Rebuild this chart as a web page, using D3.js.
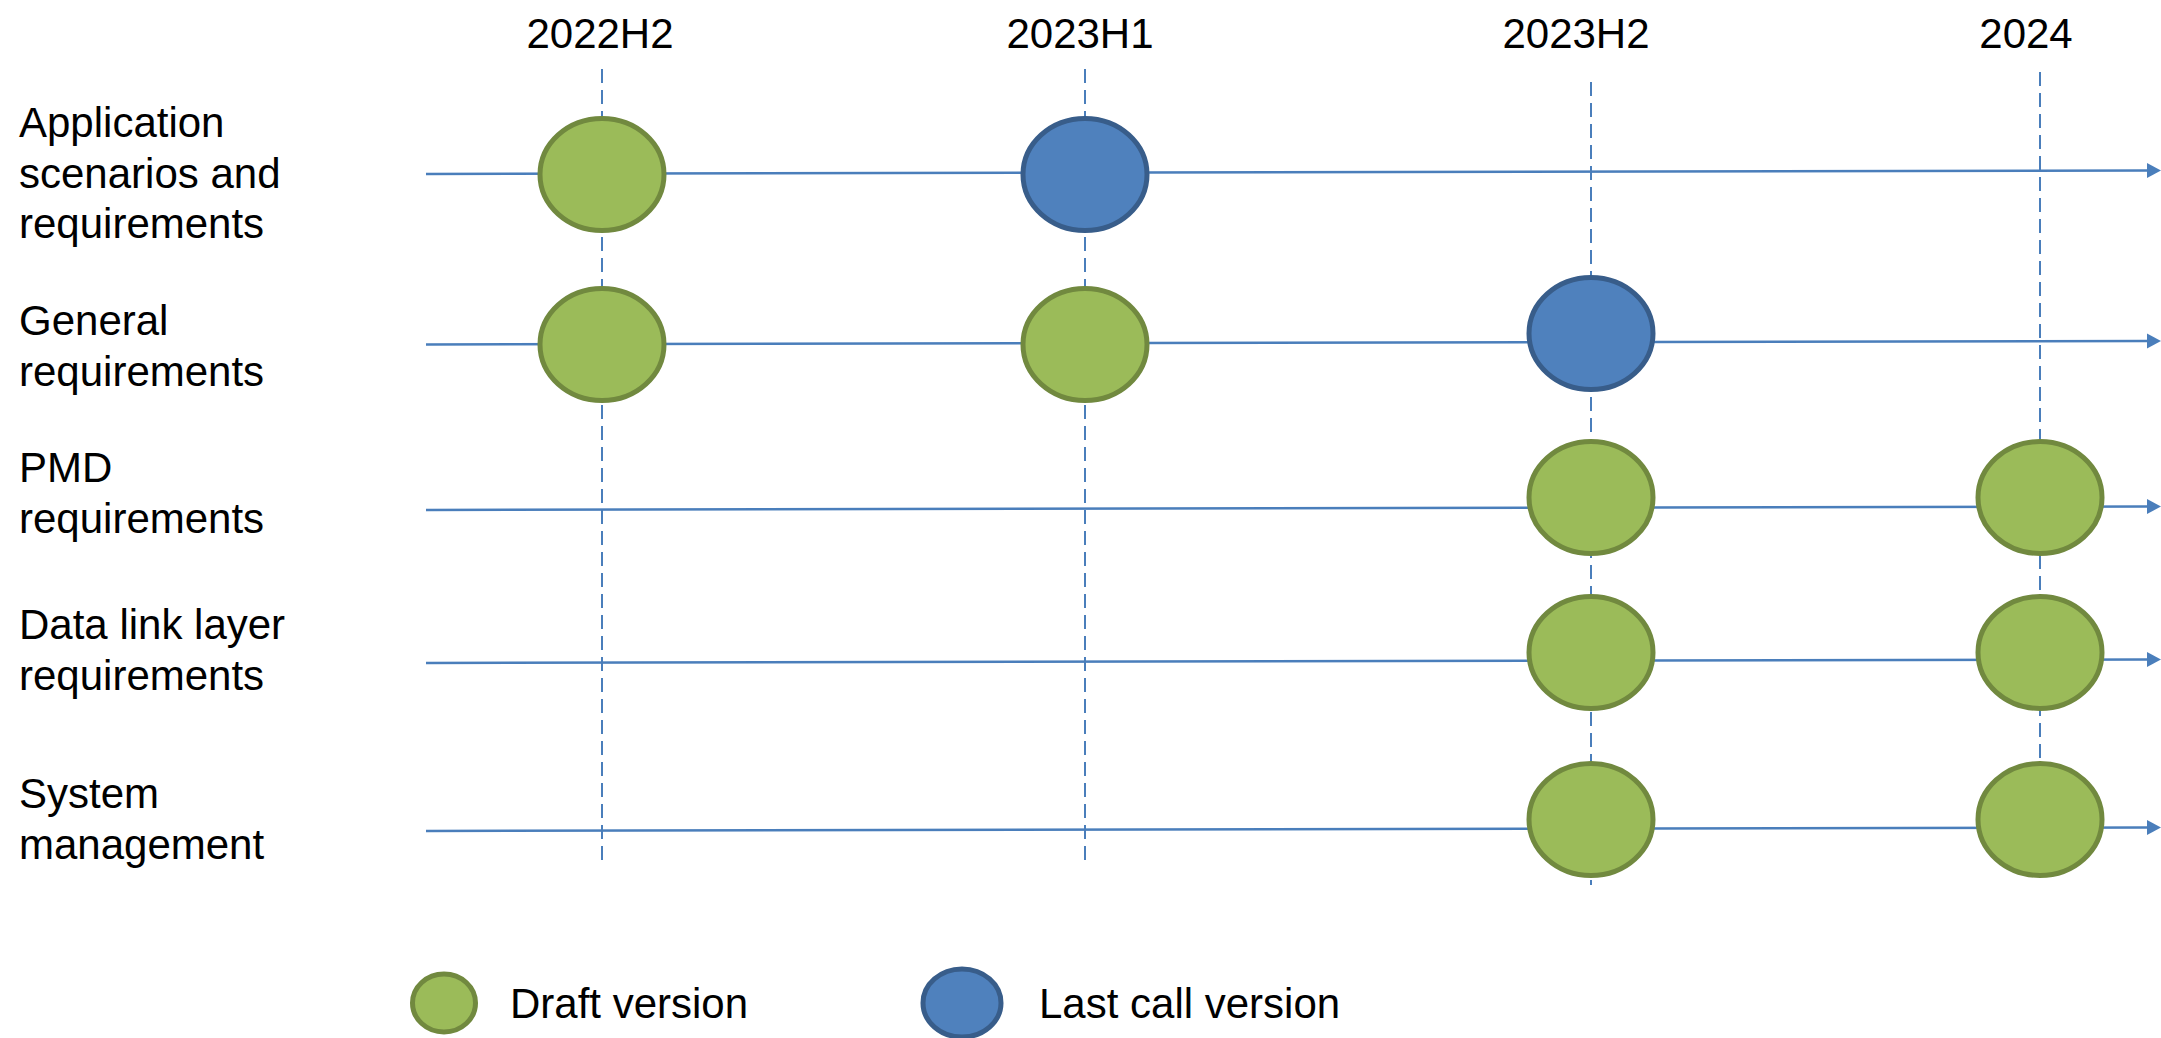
<!DOCTYPE html>
<html>
<head>
<meta charset="utf-8">
<script src="https://cdn.jsdelivr.net/npm/d3@7"></script>
<style>
  html, body { margin: 0; padding: 0; background: #fff; }
  svg { display: block; }
  text { font-family: "Liberation Sans", Arial, sans-serif; fill: #000; }
</style>
</head>
<body>
<script>
// ---- data ----
var periods = ["2022H2", "2023H1", "2023H2", "2024"];

var rows = ["app", "general", "pmd", "dll", "sysmgmt"];
var rowLabels = [
  ["Application", "scenarios and", "requirements"],
  ["General", "requirements"],
  ["PMD", "requirements"],
  ["Data link layer", "requirements"],
  ["System", "management"]
];

// status per period (same order as periods), null = nothing
var appStatus     = ["draft", "last", null, null];
var generalStatus = ["draft", "draft", "last", null];
var pmdStatus     = [null, null, "draft", "draft"];
var dllStatus     = [null, null, "draft", "draft"];
var sysStatus     = [null, null, "draft", "draft"];
var statusByRow = [appStatus, generalStatus, pmdStatus, dllStatus, sysStatus];

var legendKeys = ["draft", "last"];
var legendNames = ["Draft version", "Last call version"];

// ---- layout ----
var width = 2161, height = 1038;

var svg = d3.select("body").append("svg")
  .attr("width", width)
  .attr("height", height);

var x = d3.scaleOrdinal().domain(periods).range([602, 1085, 1591, 2040]);
var lineY = d3.scaleOrdinal().domain(rows).range([174, 344.5, 510, 663, 831]);   // row line (left end)
var dotY = d3.scaleOrdinal().domain(rows).range([174.5, 344.5, 497.5, 652.5, 819.5]);
var labelY = d3.scaleOrdinal().domain(rows).range([137, 335, 482, 639, 808]);

var lineStart = 426, arrowTip = 2161, arrowLen = 14, tilt = -3.5;
var guideTop = {"2022H2": 69, "2023H1": 69, "2023H2": 82, "2024": 72};
var guideBottom = {"2022H2": 860, "2023H1": 860, "2023H2": 885, "2024": 790};
var labelDx = {"2022H2": -2, "2023H1": -5, "2023H2": -15, "2024": -14};
var dotShift = {"general|2023H2": -11};

var fills = {draft: "#9BBB59", last: "#4F81BD"};
var strokes = {draft: "#71893F", last: "#385D8A"};
var lineBlue = "#4A7EBB";

// period labels on top
svg.selectAll("text.period")
  .data(periods)
  .enter()
  .append("text")
  .attr("class", "period")
  .attr("x", function(d) { return x(d) + labelDx[d]; })
  .attr("y", 48)
  .attr("text-anchor", "middle")
  .style("font-size", "42px")
  .text(function(d) { return d; });

// dashed vertical guides
svg.selectAll("line.guide")
  .data(periods)
  .enter()
  .append("line")
  .attr("class", "guide")
  .attr("x1", function(d) { return x(d); })
  .attr("x2", function(d) { return x(d); })
  .attr("y1", function(d) { return guideTop[d]; })
  .attr("y2", function(d) { return guideBottom[d]; })
  .style("stroke", lineBlue)
  .style("stroke-width", 2)
  .style("stroke-dasharray", "14,7");

// row lines with arrow heads
svg.selectAll("line.row")
  .data(rows)
  .enter()
  .append("line")
  .attr("class", "row")
  .attr("x1", lineStart)
  .attr("y1", function(d) { return lineY(d); })
  .attr("x2", arrowTip - arrowLen + 1)
  .attr("y2", function(d) { return lineY(d) + tilt; })
  .style("stroke", lineBlue)
  .style("stroke-width", 2.5);

svg.selectAll("path.arrow")
  .data(rows)
  .enter()
  .append("path")
  .attr("class", "arrow")
  .attr("d", function(d) {
    var y = lineY(d) + tilt;
    return "M" + (arrowTip - arrowLen) + "," + (y - 7.5) +
           "L" + arrowTip + "," + y +
           "L" + (arrowTip - arrowLen) + "," + (y + 7.5) + "Z";
  })
  .style("fill", lineBlue);

// row labels
var labels = svg.selectAll("text.rowlabel")
  .data(rows)
  .enter()
  .append("text")
  .attr("class", "rowlabel")
  .attr("x", 19)
  .attr("y", function(d) { return labelY(d); })
  .style("font-size", "42px");

labels.selectAll("tspan")
  .data(function(d, i) { return rowLabels[i]; })
  .enter()
  .append("tspan")
  .attr("x", 19)
  .attr("dy", function(d, i) { return i === 0 ? 0 : 50.5; })
  .text(function(d) { return d; });

// milestones
var milestones = [];
rows.forEach(function(r, i) {
  statusByRow[i].forEach(function(s, j) {
    if (s) milestones.push({row: r, period: periods[j], status: s});
  });
});

svg.selectAll("ellipse.milestone")
  .data(milestones)
  .enter()
  .append("ellipse")
  .attr("class", "milestone")
  .attr("cx", function(d) { return x(d.period); })
  .attr("cy", function(d) { return dotY(d.row) + (dotShift[d.row + "|" + d.period] || 0); })
  .attr("rx", 62)
  .attr("ry", 56)
  .style("fill", function(d) { return fills[d.status]; })
  .style("stroke", function(d) { return strokes[d.status]; })
  .style("stroke-width", 5);

// legend
var legendX = d3.scaleOrdinal().domain(legendKeys).range([444, 962]);
var legendRx = {draft: 31.5, last: 39};
var legendRy = {draft: 29, last: 34};

svg.selectAll("ellipse.legend")
  .data(legendKeys)
  .enter()
  .append("ellipse")
  .attr("class", "legend")
  .attr("cx", function(d) { return legendX(d); })
  .attr("cy", 1003)
  .attr("rx", function(d) { return legendRx[d]; })
  .attr("ry", function(d) { return legendRy[d]; })
  .style("fill", function(d) { return fills[d]; })
  .style("stroke", function(d) { return strokes[d]; })
  .style("stroke-width", 5);

svg.selectAll("text.legend")
  .data(legendKeys)
  .enter()
  .append("text")
  .attr("class", "legend")
  .attr("x", function(d) { return legendX(d) + (d === "draft" ? 66 : 77); })
  .attr("y", 1018)
  .style("font-size", "42px")
  .text(function(d, i) { return legendNames[i]; });
</script>
</body>
</html>
